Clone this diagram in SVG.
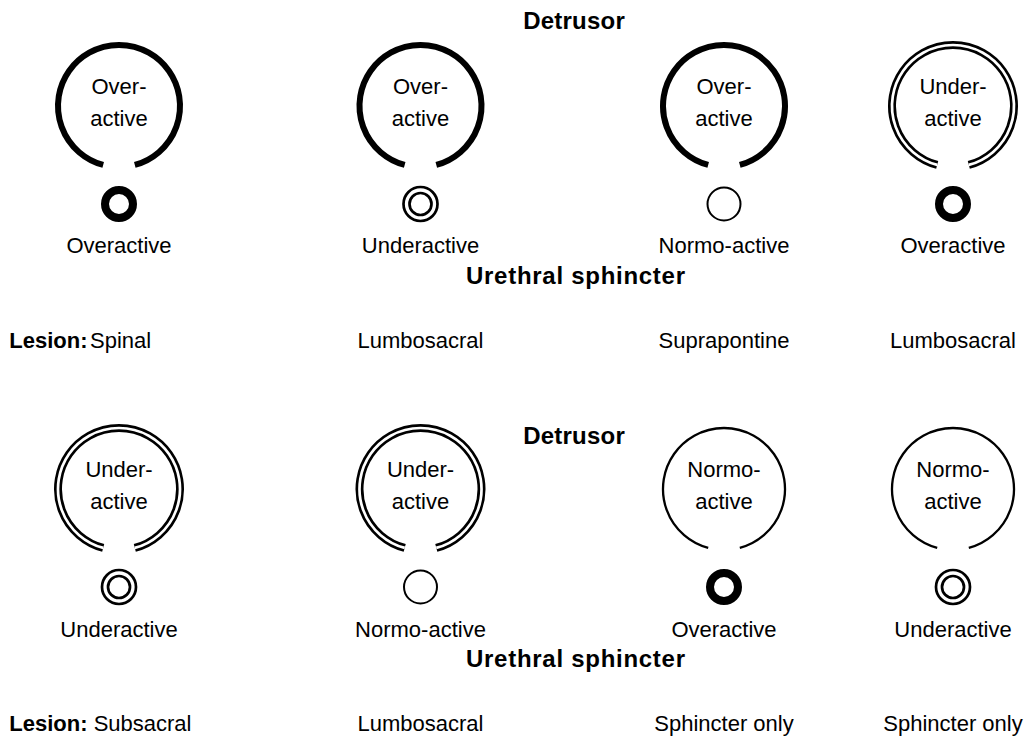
<svg xmlns="http://www.w3.org/2000/svg" xmlns:xlink="http://www.w3.org/1999/xlink" width="1029" height="740" viewBox="0 0 1029 740">
<style>
text{font-family:"Liberation Sans",Arial,Helvetica,sans-serif;font-size:22px;fill:#000}
.c{text-anchor:middle}
.b{font-weight:bold}
.t{font-weight:bold;font-size:24px;text-anchor:middle}
.ring{fill:none}
.thick{stroke:#000;stroke-width:6;fill:none}
.thin{stroke:#000;stroke-width:2.3;fill:none}
.dblo{stroke:#000;stroke-width:8;fill:none}
.dbli{stroke:#fff;stroke-width:2.7;fill:none}
.sthick{stroke:#000;stroke-width:8;fill:none}
.sthin{stroke:#000;stroke-width:2;fill:none}
.sdblo{stroke:#000;stroke-width:8.7;fill:none}
.sdbli{stroke:#fff;stroke-width:3.3;fill:none}
</style>
<defs>
<path id="arc" d="M -15.79 58.92 A 61 61 0 1 1 15.79 58.92"/>
</defs>
<rect width="1029" height="740" fill="#fff"/>

<g id="titles">
<text class="t" x="574" y="28.5" textLength="101.7">Detrusor</text>
<text class="t" x="575.5" y="283.5" textLength="219">Urethral sphincter</text>
<text class="t" x="574" y="443.5" textLength="101.7">Detrusor</text>
<text class="t" x="575.5" y="666.5" textLength="219">Urethral sphincter</text>
</g>

<g id="connectors"></g>

<!-- Top row -->
<g id="n1">
<use xlink:href="#arc" class="thick" transform="translate(119,106)"/>
<text class="c" x="119" y="94">Over-</text>
<text class="c" x="119" y="126">active</text>
<circle class="sthick" cx="119" cy="204" r="14"/>
<text class="c" x="119" y="253">Overactive</text>
</g>
<g id="n2">
<use xlink:href="#arc" class="thick" transform="translate(420.5,106)"/>
<text class="c" x="420.5" y="94">Over-</text>
<text class="c" x="420.5" y="126">active</text>
<circle class="sdblo" cx="420.5" cy="204" r="14"/>
<circle class="sdbli" cx="420.5" cy="204" r="14"/>
<text class="c" x="420.5" y="253">Underactive</text>
</g>
<g id="n3">
<use xlink:href="#arc" class="thick" transform="translate(724,106)"/>
<text class="c" x="724" y="94">Over-</text>
<text class="c" x="724" y="126">active</text>
<circle class="sthin" cx="724" cy="204" r="16.5"/>
<text class="c" x="724" y="253">Normo-active</text>
</g>
<g id="n4">
<use xlink:href="#arc" class="dblo" transform="translate(953,106)"/>
<use xlink:href="#arc" class="dbli" transform="translate(953,106)"/>
<text class="c" x="953" y="94">Under-</text>
<text class="c" x="953" y="126">active</text>
<circle class="sthick" cx="953" cy="204" r="14"/>
<text class="c" x="953" y="253">Overactive</text>
</g>

<g id="lesion-top">
<text x="9.3" y="348.3"><tspan class="b">Lesion:</tspan><tspan x="90">Spinal</tspan></text>
<text class="c" x="420.5" y="348.3">Lumbosacral</text>
<text class="c" x="724" y="348.3">Suprapontine</text>
<text class="c" x="953" y="348.3">Lumbosacral</text>
</g>

<!-- Bottom row -->
<g id="n5">
<use xlink:href="#arc" class="dblo" transform="translate(119,489)"/>
<use xlink:href="#arc" class="dbli" transform="translate(119,489)"/>
<text class="c" x="119" y="477">Under-</text>
<text class="c" x="119" y="509">active</text>
<circle class="sdblo" cx="119" cy="587" r="14"/>
<circle class="sdbli" cx="119" cy="587" r="14"/>
<text class="c" x="119" y="637">Underactive</text>
</g>
<g id="n6">
<use xlink:href="#arc" class="dblo" transform="translate(420.5,489)"/>
<use xlink:href="#arc" class="dbli" transform="translate(420.5,489)"/>
<text class="c" x="420.5" y="477">Under-</text>
<text class="c" x="420.5" y="509">active</text>
<circle class="sthin" cx="420.5" cy="587" r="16.5"/>
<text class="c" x="420.5" y="637">Normo-active</text>
</g>
<g id="n7">
<use xlink:href="#arc" class="thin" transform="translate(724,489)"/>
<text class="c" x="724" y="477">Normo-</text>
<text class="c" x="724" y="509">active</text>
<circle class="sthick" cx="724" cy="587" r="14"/>
<text class="c" x="724" y="637">Overactive</text>
</g>
<g id="n8">
<use xlink:href="#arc" class="thin" transform="translate(953,489)"/>
<text class="c" x="953" y="477">Normo-</text>
<text class="c" x="953" y="509">active</text>
<circle class="sdblo" cx="953" cy="587" r="14"/>
<circle class="sdbli" cx="953" cy="587" r="14"/>
<text class="c" x="953" y="637">Underactive</text>
</g>

<g id="lesion-bottom">
<text x="9.3" y="731"><tspan class="b">Lesion:</tspan> Subsacral</text>
<text class="c" x="420.5" y="731">Lumbosacral</text>
<text class="c" x="724" y="731">Sphincter only</text>
<text class="c" x="953" y="731">Sphincter only</text>
</g>
</svg>
